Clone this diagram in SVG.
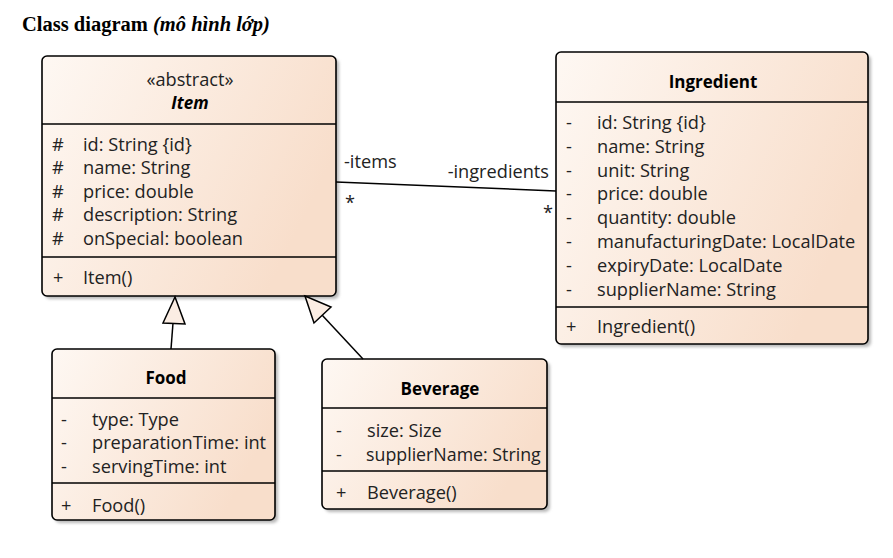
<svg xmlns="http://www.w3.org/2000/svg" width="893" height="558" viewBox="0 0 893 558">
<defs>
<linearGradient id="g" x1="0" y1="0" x2="1" y2="0.4">
<stop offset="0" stop-color="#FEF8F3"/>
<stop offset="1" stop-color="#F8DECB"/>
</linearGradient>
<filter id="sh" x="-5%" y="-5%" width="115%" height="115%">
<feGaussianBlur stdDeviation="1.5"/>
</filter>
</defs>
<style>
.box{fill:url(#g);stroke:#000;stroke-width:1.6}
.shadow{fill:#b8b8b8;filter:url(#sh)}
.div{stroke:#000;stroke-width:1.6}
.t{font-family:"Open Sans","Liberation Sans",sans-serif;font-size:18.2px;fill:#222}
.title{font-family:"Open Sans","Liberation Sans",sans-serif;font-size:17px;font-weight:bold;fill:#000;text-anchor:middle}
.conn{stroke:#000;stroke-width:1.5;fill:none}
.tri{fill:#FBEDE3;stroke:#000;stroke-width:1.5}
.head{font-family:"Liberation Serif",serif;font-size:20.5px;font-weight:bold;fill:#000}
</style>
<text class="head" x="22" y="31">Class diagram <tspan font-style="italic">(mô hình lớp)</tspan></text>

<g id="Item">
<rect class="shadow" x="45" y="59" width="294" height="240" rx="5"/>
<rect class="box" x="42" y="56" width="294" height="240" rx="5"/>
<line class="div" x1="42" y1="124" x2="336" y2="124"/>
<line class="div" x1="42" y1="257" x2="336" y2="257"/>
<text class="t" x="190" y="86" text-anchor="middle" font-size="17.5">«abstract»</text>
<text class="title" x="190" y="109" font-style="italic">Item</text>
<g class="t">
<text x="52" y="151">#</text><text x="83" y="151">id: String {id}</text>
<text x="52" y="174">#</text><text x="83" y="174">name: String</text>
<text x="52" y="198">#</text><text x="83" y="198">price: double</text>
<text x="52" y="221">#</text><text x="83" y="221">description: String</text>
<text x="52" y="245">#</text><text x="83" y="245">onSpecial: boolean</text>
<text x="53" y="284">+</text><text x="83" y="284">Item()</text>
</g>
</g>

<g id="Ingredient">
<rect class="shadow" x="559" y="55" width="312" height="292" rx="5"/>
<rect class="box" x="556" y="52" width="312" height="292" rx="5"/>
<line class="div" x1="556" y1="102" x2="868" y2="102"/>
<line class="div" x1="556" y1="307" x2="868" y2="307"/>
<text class="title" x="713" y="88">Ingredient</text>
<g class="t">
<text x="566" y="129">-</text><text x="597" y="129">id: String {id}</text>
<text x="566" y="153">-</text><text x="597" y="153">name: String</text>
<text x="566" y="177">-</text><text x="597" y="177">unit: String</text>
<text x="566" y="200">-</text><text x="597" y="200">price: double</text>
<text x="566" y="224">-</text><text x="597" y="224">quantity: double</text>
<text x="566" y="248">-</text><text x="597" y="248">manufacturingDate: LocalDate</text>
<text x="566" y="272">-</text><text x="597" y="272">expiryDate: LocalDate</text>
<text x="566" y="296">-</text><text x="597" y="296">supplierName: String</text>
<text x="566" y="333">+</text><text x="597" y="333">Ingredient()</text>
</g>
</g>

<g id="Food">
<rect class="shadow" x="55" y="352" width="223" height="171" rx="5"/>
<rect class="box" x="52" y="349" width="223" height="171" rx="5"/>
<line class="div" x1="52" y1="398" x2="275" y2="398"/>
<line class="div" x1="52" y1="483" x2="275" y2="483"/>
<text class="title" x="166" y="384">Food</text>
<g class="t">
<text x="61" y="426">-</text><text x="92" y="426">type: Type</text>
<text x="61" y="449">-</text><text x="92" y="449">preparationTime: int</text>
<text x="61" y="473">-</text><text x="92" y="473">servingTime: int</text>
<text x="61" y="512">+</text><text x="92" y="512">Food()</text>
</g>
</g>

<g id="Beverage">
<rect class="shadow" x="325" y="362" width="225" height="150" rx="5"/>
<rect class="box" x="322" y="359" width="225" height="150" rx="5"/>
<line class="div" x1="322" y1="408" x2="547" y2="408"/>
<line class="div" x1="322" y1="471" x2="547" y2="471"/>
<text class="title" x="440" y="395">Beverage</text>
<g class="t">
<text x="336" y="437">-</text><text x="367" y="437">size: Size</text>
<text x="336" y="461">-</text><text x="366" y="461" font-size="17.8">supplierName: String</text>
<text x="336" y="499">+</text><text x="367" y="499">Beverage()</text>
</g>
</g>

<g id="connectors">
<line class="conn" x1="171" y1="349" x2="173" y2="323"/>
<polygon class="tri" points="175,297 163,323 185,324"/>
<line class="conn" x1="363" y1="359" x2="322" y2="315"/>
<polygon class="tri" points="305,296 331,307 314,323"/>
<line class="conn" x1="336" y1="182" x2="556" y2="191"/>
<g class="t">
<text x="344" y="168">-items</text>
<text x="549" y="178" text-anchor="end">-ingredients</text>
<text x="345" y="209">*</text>
<text x="543" y="219">*</text>
</g>
</g>
</svg>
